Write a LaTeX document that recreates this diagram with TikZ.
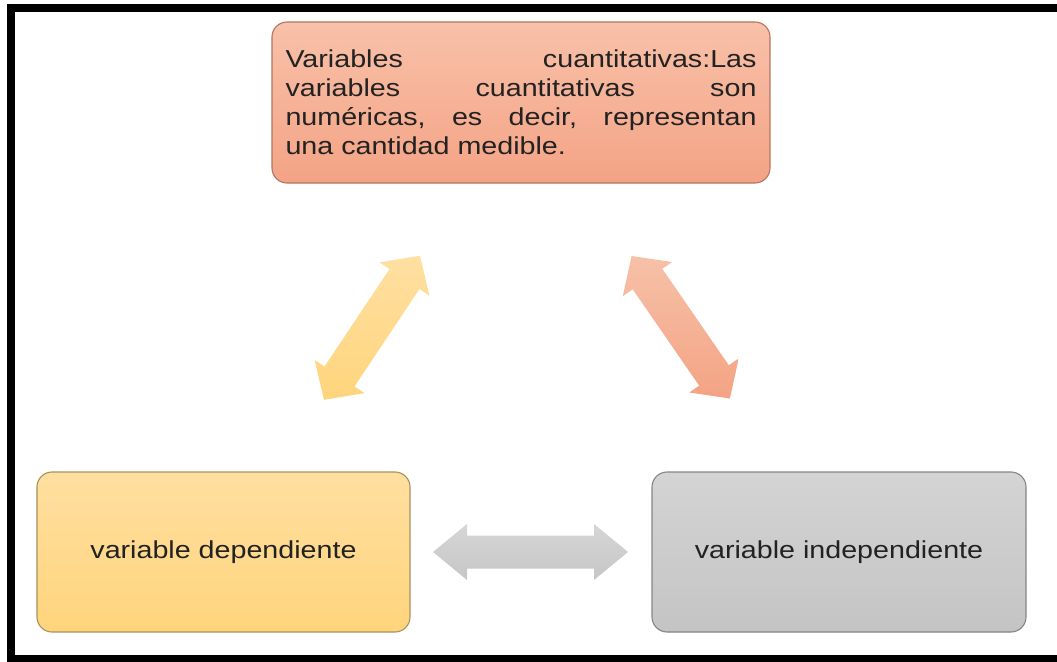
\documentclass[tikz,border=0pt]{standalone}
\usepackage{fontspec}
\setmainfont{Liberation Sans}[FakeStretch=1.17]
\usetikzlibrary{calc}
\definecolor{txt}{HTML}{222222}
\definecolor{salTop}{HTML}{F8C1A9}
\definecolor{salBot}{HTML}{F4A385}
\definecolor{salLine}{HTML}{B0765E}
\definecolor{yelTop}{HTML}{FFDFA0}
\definecolor{yelBot}{HTML}{FFD47C}
\definecolor{yelLine}{HTML}{A8905E}
\definecolor{gryTop}{HTML}{D4D4D4}
\definecolor{gryBot}{HTML}{C4C4C4}
\definecolor{gryLine}{HTML}{858585}
\definecolor{arYelTop}{HTML}{FFE0A2}
\definecolor{arYelBot}{HTML}{FFD47C}
\definecolor{arSalTop}{HTML}{F6C1A8}
\definecolor{arSalBot}{HTML}{F4A384}
\definecolor{arGryTop}{HTML}{D6D6D6}
\definecolor{arGryBot}{HTML}{C6C6C6}
\newcommand\bigdarrow[6]{%
 \coordinate (#2h) at ($(#2)!#4!(#3)$);
 \coordinate (#3h) at ($(#3)!#4!(#2)$);
 \path[#1] (#2) -- ($(#2h)!#5!90:(#3)$) -- ($(#2h)!#6!90:(#3)$)
   -- ($(#3h)!#6!-90:(#2)$) -- ($(#3h)!#5!-90:(#2)$) -- (#3)
   -- ($(#3h)!#5!90:(#2)$) -- ($(#3h)!#6!90:(#2)$)
   -- ($(#2h)!#6!-90:(#3)$) -- ($(#2h)!#5!-90:(#3)$) -- cycle;}
\tikzset{
  box/.style={rounded corners=15bp, line width=1.1bp, inner sep=0pt,
    text=txt, font=\fontsize{24.5bp}{29bp}\selectfont},
  salbox/.style={box, draw=salLine, top color=salTop, bottom color=salBot,
    minimum width=498bp, minimum height=161bp},
  yelbox/.style={box, draw=yelLine, top color=yelTop, bottom color=yelBot,
    minimum width=373bp, minimum height=160bp},
  grybox/.style={box, draw=gryLine, top color=gryTop, bottom color=gryBot,
    minimum width=374bp, minimum height=160bp},
  yelarrow/.style={top color=arYelTop, bottom color=arYelBot},
  salarrow/.style={top color=arSalTop, bottom color=arSalBot},
  gryarrow/.style={top color=arGryTop, bottom color=arGryBot},
  frame/.style={fill=black}
}
\begin{document}
\begin{tikzpicture}[x=1bp,y=-1bp]
\useasboundingbox (0,0) rectangle (1057,662);
% frame
\fill[frame] (7,4) rectangle (1057,12);
\fill[frame] (7,4) rectangle (15,662);
\fill[frame] (7,655) rectangle (1057,662);
% boxes
\node[salbox, align=left] (q) at (521,102.5) {%
\hbox to 471bp{Variables\hfill cuantitativas:Las}\\
\hbox to 471bp{variables\hfill cuantitativas\hfill son}\\
\hbox to 471bp{numéricas,\hfill es\hfill decir,\hfill representan}\\
\hbox to 471bp{una cantidad medible.\hfill}};
\node[yelbox] (dep) at (223.5,552) {variable dependiente};
\node[grybox] (ind) at (839,552) {variable independiente};
% arrow end points
\coordinate (l1) at (324,399.8);
\coordinate (l2) at (420,255.7);
\coordinate (r1) at (631.6,256);
\coordinate (r2) at (729.9,398.5);
\coordinate (h1) at (433,552);
\coordinate (h2) at (628,552);
\bigdarrow{yelarrow}{l1}{l2}{28bp}{30bp}{18bp}
\bigdarrow{salarrow}{r1}{r2}{28bp}{30bp}{18bp}
\bigdarrow{gryarrow}{h1}{h2}{34bp}{28bp}{16.5bp}
\end{tikzpicture}
\end{document}
